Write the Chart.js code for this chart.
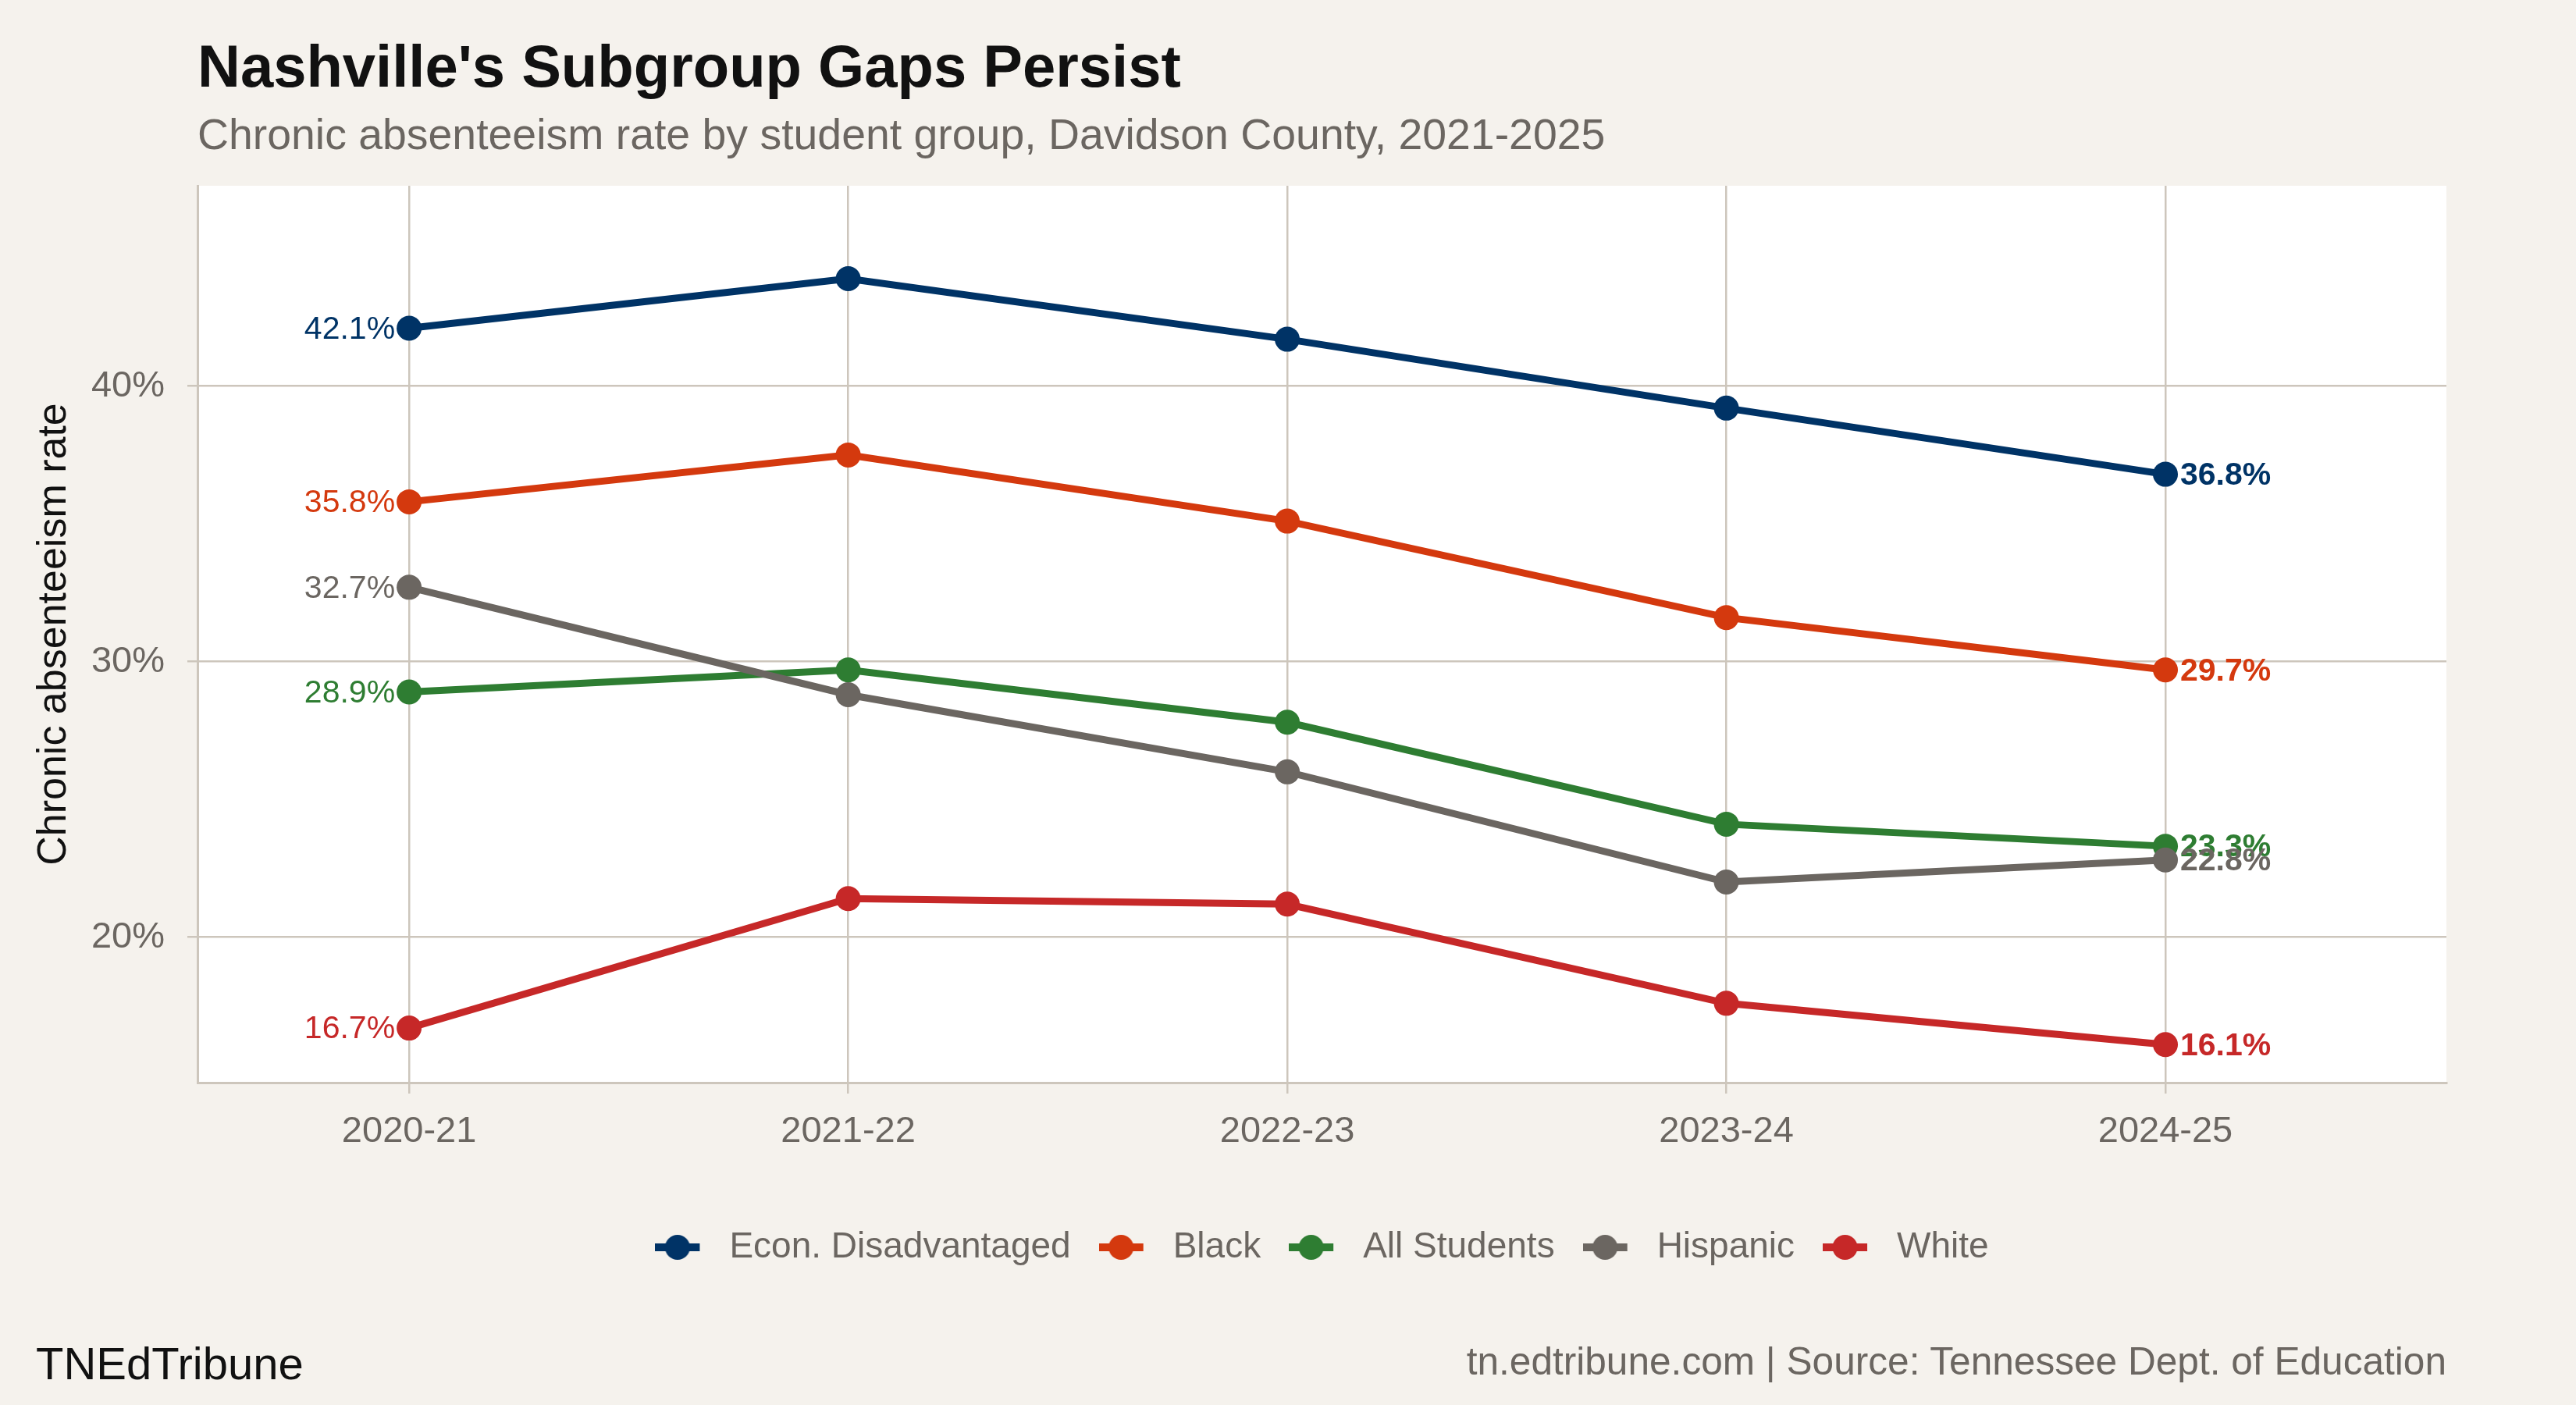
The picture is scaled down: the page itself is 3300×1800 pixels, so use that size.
<!DOCTYPE html>
<html>
<head>
<meta charset="utf-8">
<title>Nashville's Subgroup Gaps Persist</title>
<script src="https://cdn.jsdelivr.net/npm/chart.js@4.4.1/dist/chart.umd.min.js"></script>
<style>
  body { margin: 0; background: #f5f2ed; }
  #wrap { position: relative; width: 3300px; height: 1800px; font-family: "Liberation Sans", Arial, sans-serif; }
  #chart { position: absolute; left: 0; top: 0; }
  .txt { position: absolute; white-space: nowrap; line-height: 1; }
  #title { left: 253px; top: 47px; font-size: 76px; font-weight: bold; color: #111; }
  #subtitle { left: 253px; top: 145px; font-size: 55.4px; color: #6b6661; }
  #brand { left: 46px; top: 1718px; font-size: 58px; color: #111; }
  #source { right: 166px; top: 1720px; font-size: 49.6px; color: #6b6661; }
</style>
</head>
<body>
<div id="wrap">
  <canvas id="chart" width="3300" height="1800"></canvas>
  <div class="txt" id="title">Nashville's Subgroup Gaps Persist</div>
  <div class="txt" id="subtitle">Chronic absenteeism rate by student group, Davidson County, 2021-2025</div>
  <div class="txt" id="brand">TNEdTribune</div>
  <div class="txt" id="source">tn.edtribune.com | Source: Tennessee Dept. of Education</div>
</div>
<script>
// school years on the x axis
const seasons = ['2020-21', '2021-22', '2022-23', '2023-24', '2024-25'];
const groups = ['Econ. Disadvantaged', 'Black', 'All Students', 'Hispanic', 'White'];

// chronic absenteeism rate, %
const econ = [42.1, 43.9, 41.7, 39.2, 36.8];
const black = [35.8, 37.5, 35.1, 31.6, 29.7];
const allStudents = [28.9, 29.7, 27.8, 24.1, 23.3];
const hispanic = [32.7, 28.8, 26.0, 22.0, 22.8];
const white = [16.7, 21.4, 21.2, 17.6, 16.1];

const yTicks = [20, 30, 40];
const colors = ['#003366', '#d4390e', '#2e7d32', '#6b6661', '#c62828'];

const series = [econ, black, allStudents, hispanic, white];
const FONT = '"Liberation Sans", Arial, sans-serif';
const GRID = '#cdc6bc';
const GREY = '#6b6661';

Chart.defaults.font.family = FONT;

// legend key: short thick line with a dot on it
function keyIcon(color) {
    const c = document.createElement('canvas');
    c.width = 72;
    c.height = 36;
    const g = c.getContext('2d');
    g.strokeStyle = color;
    g.lineWidth = 10;
    g.beginPath();
    g.moveTo(0, 18);
    g.lineTo(57, 18);
    g.stroke();
    g.fillStyle = color;
    g.beginPath();
    g.arc(28.5, 18, 16, 0, Math.PI * 2);
    g.fill();
    return c;
}

const datasets = groups.map((name, i) => ({
    label: name,
    data: series[i].map((v, j) => ({ x: j, y: v })),
    borderColor: colors[i],
    backgroundColor: colors[i],
    pointBackgroundColor: colors[i],
    borderWidth: 9,
    pointRadius: 16,
    pointBorderWidth: 0,
    tension: 0,
    order: groups.length - i
}));

// white panel behind the lines
const panelBg = {
    id: 'panelBg',
    beforeDraw(chart) {
        const a = chart.chartArea;
        const ctx = chart.ctx;
        ctx.save();
        ctx.fillStyle = '#ffffff';
        ctx.fillRect(a.left, a.top, a.right - a.left, a.bottom - a.top);
        ctx.restore();
    }
};

// centre legend under the panel, not the canvas
const legendSpot = {
    id: 'legendSpot',
    afterLayout(chart) {
        const lg = chart.legend;
        const a = chart.chartArea;
        lg.left = a.left;
        lg.right = a.right;
        lg.top = 1598 - 36 - 23;
    }
};

// first and last value labels
const endLabels = {
    id: 'endLabels',
    afterDatasetsDraw(chart) {
        const ctx = chart.ctx;
        chart.data.datasets.forEach((ds, i) => {
            const pts = chart.getDatasetMeta(i).data;
            const first = pts[0];
            const last = pts[pts.length - 1];
            ctx.save();
            ctx.fillStyle = ds.borderColor;
            ctx.textBaseline = 'middle';
            ctx.font = '41px ' + FONT;
            ctx.textAlign = 'right';
            ctx.fillText(series[i][0].toFixed(1) + '%', first.x - 18, first.y + 2);
            ctx.font = 'bold 41px ' + FONT;
            ctx.textAlign = 'left';
            ctx.fillText(series[i][series[i].length - 1].toFixed(1) + '%', last.x + 19, last.y + 2);
            ctx.restore();
        });
    }
};

const config = {
    type: 'line',
    data: { datasets: datasets },
    options: {
        responsive: false,
        animation: false,
        events: [],
        layout: { padding: { top: 238, right: 166, left: 0, bottom: 0 } },
        scales: {
            x: {
                type: 'linear',
                min: -0.482,
                max: 4.64,
                afterBuildTicks: s => { s.ticks = seasons.map((_, i) => ({ value: i })); },
                ticks: {
                    callback: v => seasons[v],
                    font: { size: 47 },
                    color: GREY,
                    padding: 21,
                    autoSkip: false,
                    maxRotation: 0
                },
                grid: { color: GRID, lineWidth: 2.5, tickLength: 14 },
                border: { display: true, color: GRID, width: 3 },
                afterFit: s => { s.height = 1800 - 1387 - s.chart.legend.height; }
            },
            y: {
                min: 14.72,
                max: 47.27,
                afterBuildTicks: s => { s.ticks = yTicks.map(v => ({ value: v })); },
                ticks: {
                    callback: v => v + '%',
                    font: { size: 47 },
                    color: GREY,
                    padding: 29
                },
                grid: { color: GRID, lineWidth: 2.5, tickLength: 13 },
                border: { display: true, color: GRID, width: 3 },
                title: {
                    display: true,
                    text: 'Chronic absenteeism rate',
                    font: { size: 52 },
                    color: '#111111',
                    padding: { top: 38, bottom: 0 }
                },
                afterFit: s => { s.width = 253; }
            }
        },
        plugins: {
            legend: {
                position: 'bottom',
                labels: {
                    usePointStyle: true,
                    pointStyleWidth: 72,
                    padding: 36,
                    color: GREY,
                    font: { size: 46 },
                    generateLabels: chart => chart.data.datasets.map((ds, i) => ({
                        text: ds.label,
                        fillStyle: ds.borderColor,
                        strokeStyle: ds.borderColor,
                        lineWidth: 0,
                        pointStyle: keyIcon(ds.borderColor),
                        fontColor: GREY,
                        datasetIndex: i
                    }))
                }
            },
            tooltip: { enabled: false }
        }
    },
    plugins: [panelBg, legendSpot, endLabels]
};

const chart = new Chart(document.getElementById('chart'), config);
</script>
</body>
</html>
